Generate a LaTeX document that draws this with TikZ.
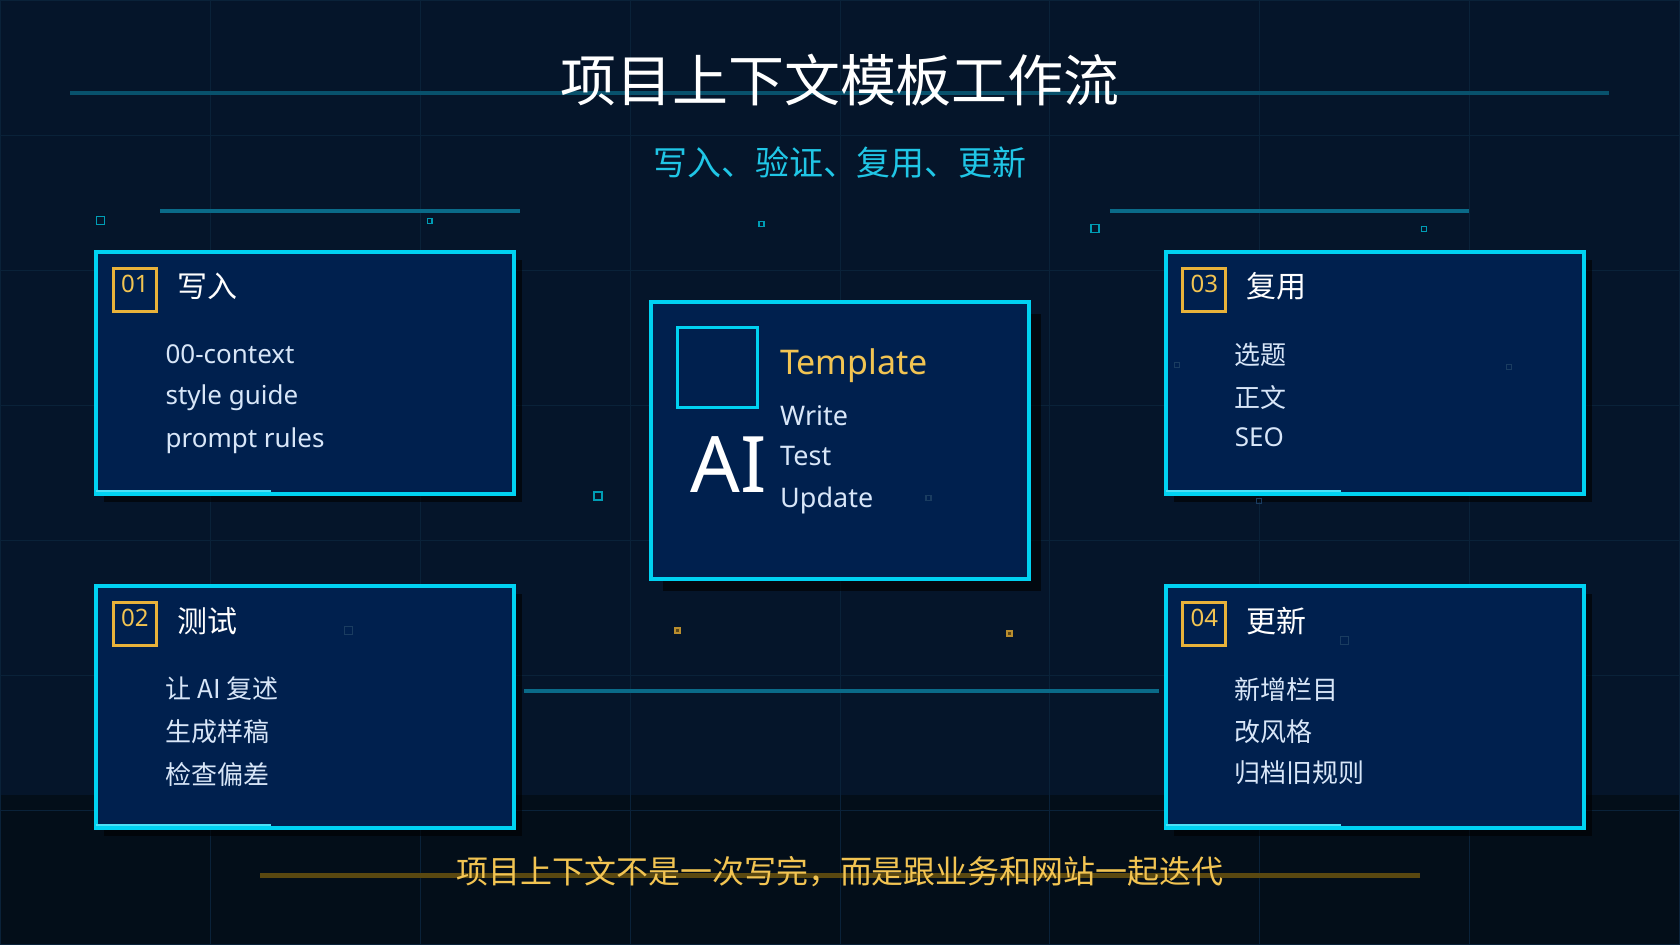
\documentclass[tikz,border=0pt]{standalone}
\usepackage{fontspec}
\setmainfont{Noto Sans CJK SC}
\newfontfamily\latinfont{Noto Sans}
\usetikzlibrary{positioning,shadows}

\definecolor{bgnavy}{HTML}{05152A}
\definecolor{bandnavy}{HTML}{030E19}
\definecolor{gridblue}{HTML}{0A2239}
\definecolor{cardfill}{HTML}{00204E}
\definecolor{cardline}{HTML}{00D2F2}
\definecolor{tealline}{HTML}{0A6A88}
\definecolor{goldtext}{HTML}{F2C452}
\definecolor{goldbox}{HTML}{E8B23A}
\definecolor{goldline}{HTML}{5A4810}
\definecolor{itemtext}{HTML}{D8E6F8}
\definecolor{subcyan}{HTML}{20C6E6}
\definecolor{faintblue}{HTML}{1A3C60}

\tikzset{
  card/.style={draw=cardline, fill=cardfill, line width=4pt, inner sep=0pt, outer sep=0pt, anchor=north west,
    minimum width=418pt, minimum height=242pt,
    drop shadow={shadow xshift=#1, shadow yshift=-#1, fill=black, opacity=0.6}},
  card/.default=8pt,
  numbox/.style={draw=goldbox, line width=3pt, minimum size=43pt, inner sep=0pt, outer sep=0pt, anchor=north west,
    text=goldtext, font=\latinfont\fontsize{24}{24}\selectfont, text height=18pt, text depth=13pt},
  cardtitle/.style={inner sep=0pt, text=white, font=\fontsize{30}{30}\selectfont},
  item/.style={inner sep=0pt, text=itemtext, font=\fontsize{26}{26}\selectfont},
  latinitem/.style={inner sep=0pt, text=itemtext, font=\latinfont\fontsize{26}{26}\selectfont},
  sq/.style={draw=cardline!75!black, line width=1.5pt},
  faintsq/.style={draw=faintblue, line width=1.2pt},
  goldsq/.style={draw=goldbox!80!black, fill=goldbox!40!black, line width=1.5pt},
}

\begin{document}
\begin{tikzpicture}[x=1pt, y=-1pt]
  \fill[bgnavy] (0,0) rectangle (1680,945);
  \fill[bandnavy] (0,795) rectangle (1680,945);
  \draw[gridblue, line width=1pt] (0,0) grid[xstep=210pt, ystep=135pt] (1680,945);

  \draw[tealline!70!bgnavy, line width=4pt] (70,93) -- (1609,93);
  \node[text=white, font=\fontsize{56}{56}\selectfont] (title) at (840,80) {项目上下文模板工作流};
  \node[text=subcyan, font=\fontsize{34}{34}\selectfont] (subtitle) at (840,162) {写入、验证、复用、更新};

  \draw[tealline, line width=4pt] (160,211) -- (520,211);
  \draw[tealline, line width=4pt] (1110,211) -- (1469,211);
  \draw[sq] (96,216) rectangle ++(8,8);
  \draw[sq] (427,218) rectangle ++(5,5);
  \draw[sq] (759,221) rectangle ++(5,5);
  \draw[sq] (1091,224) rectangle ++(8,8);
  \draw[sq] (1422,226) rectangle ++(5,5);
  \draw[sq] (594,492) rectangle ++(8,8);
  \draw[goldsq] (675,628) rectangle ++(5,5);
  \draw[goldsq] (1007,631) rectangle ++(5,5);

  \node[card] (box01) at (96,252) {};
  \node[card] (box02) at (96,586) {};
  \node[card] (box03) at (1166,252) {};
  \node[card] (box04) at (1166,586) {};
  \node[card=12pt, minimum width=378pt, minimum height=277pt] (core) at (651,302) {};

  \draw[cardline!70!white, line width=2pt] ([yshift=3pt]box01.south west) -- ++(175,0);
  \draw[cardline!70!white, line width=2pt] ([yshift=3pt]box02.south west) -- ++(175,0);
  \draw[cardline!70!white, line width=2pt] ([yshift=3pt]box03.south west) -- ++(175,0);
  \draw[cardline!70!white, line width=2pt] ([yshift=3pt]box04.south west) -- ++(175,0);

  \draw[faintsq] (344,626) rectangle ++(8,8);
  \draw[faintsq] (1341,636) rectangle ++(8,8);
  \draw[faintsq] (1175,362) rectangle ++(5,5);
  \draw[faintsq] (1507,364) rectangle ++(5,5);
  \draw[faintsq] (1257,498) rectangle ++(5,5);
  \draw[faintsq] (926,495) rectangle ++(5,5);

  \draw[tealline, line width=4pt] ([xshift=10pt, yshift=16pt]box02.east) -- ([xshift=-7pt, yshift=16pt]box04.west);

  % 01
  \node[numbox, below right=16pt and 17pt of box01.north west] (n01) {01};
  \node[cardtitle, below right=34pt and 81pt of box01.north west, anchor=west] (t01) {写入};
  \node[latinitem, below right=102pt and 69pt of box01.north west, anchor=west] (i01a) {00-context};
  \node[latinitem, below right=145pt and 69pt of box01.north west, anchor=west] (i01b) {style guide};
  \node[latinitem, below right=188pt and 69pt of box01.north west, anchor=west] (i01c) {prompt rules};

  % 02
  \node[numbox, below right=16pt and 17pt of box02.north west] (n02) {02};
  \node[cardtitle, below right=35pt and 81pt of box02.north west, anchor=west] (t02) {测试};
  \node[item, below right=103pt and 69pt of box02.north west, anchor=west] (i02a) {让 AI 复述};
  \node[item, below right=146pt and 69pt of box02.north west, anchor=west] (i02b) {生成样稿};
  \node[item, below right=188pt and 69pt of box02.north west, anchor=west] (i02c) {检查偏差};

  % 03
  \node[numbox, below right=16pt and 17pt of box03.north west] (n03) {03};
  \node[cardtitle, below right=34pt and 81pt of box03.north west, anchor=west] (t03) {复用};
  \node[item, below right=102pt and 69pt of box03.north west, anchor=west] (i03a) {选题};
  \node[item, below right=145pt and 69pt of box03.north west, anchor=west] (i03b) {正文};
  \node[latinitem, below right=185pt and 69pt of box03.north west, anchor=west] (i03c) {SEO};

  % 04
  \node[numbox, below right=16pt and 17pt of box04.north west] (n04) {04};
  \node[cardtitle, below right=35pt and 81pt of box04.north west, anchor=west] (t04) {更新};
  \node[item, below right=103pt and 69pt of box04.north west, anchor=west] (i04a) {新增栏目};
  \node[item, below right=146pt and 69pt of box04.north west, anchor=west] (i04b) {改风格};
  \node[item, below right=187pt and 69pt of box04.north west, anchor=west] (i04c) {归档旧规则};

  % centre
  \node[draw=cardline, line width=3pt, minimum size=80pt, inner sep=0pt, outer sep=0pt,
    below right=25pt and 26pt of core.north west] (frame) {};
  \node[text=white, inner sep=0pt, font=\latinfont\fontsize{78}{78}\selectfont,
    below right=162pt and 78pt of core.north west, anchor=center] (ai) {AI};
  \node[text=goldtext, inner sep=0pt, font=\latinfont\fontsize{34}{34}\selectfont,
    below right=63pt and 129pt of core.north west, anchor=west] (tpl) {Template};
  \node[latinitem, font=\latinfont\fontsize{27}{27}\selectfont, below right=113pt and 129pt of core.north west, anchor=west] (wr) {Write};
  \node[latinitem, font=\latinfont\fontsize{27}{27}\selectfont, below right=154pt and 129pt of core.north west, anchor=west] (te) {Test};
  \node[latinitem, font=\latinfont\fontsize{27}{27}\selectfont, below right=198pt and 129pt of core.north west, anchor=west] (up) {Update};

  \draw[goldline, line width=5pt] (260,876) -- (1420,876);
  \node[text=goldtext, font=\fontsize{32}{32}\selectfont] (motto) at (840,872) {项目上下文不是一次写完，而是跟业务和网站一起迭代};
\end{tikzpicture}
\end{document}
